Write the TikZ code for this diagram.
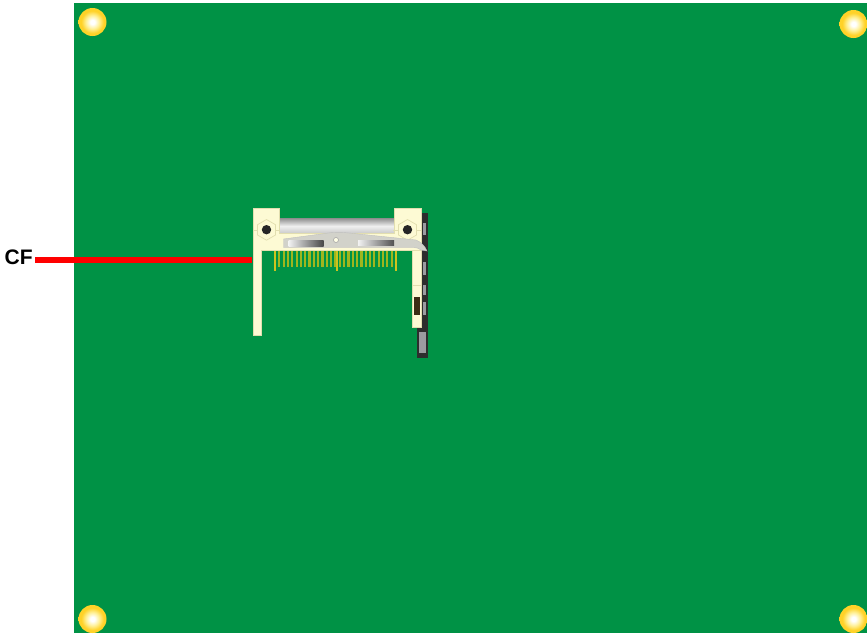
\documentclass[tikz,border=0pt]{standalone}
\usepackage{fontspec}
\setmainfont{Liberation Sans}
\definecolor{boardgreen}{RGB}{0,146,69}
\definecolor{holeyel}{RGB}{255,210,40}
\definecolor{holeor}{RGB}{232,172,50}
\definecolor{holepale}{RGB}{255,240,150}
\definecolor{cream}{RGB}{253,250,212}
\definecolor{creamline}{RGB}{226,222,175}
\definecolor{pinyel}{RGB}{160,182,30}
\definecolor{pinbright}{RGB}{205,195,30}
\definecolor{plategray}{RGB}{210,210,202}
\definecolor{darkstrip}{RGB}{45,45,45}
\definecolor{stripgray}{RGB}{155,155,160}
\definecolor{slotbrown}{RGB}{60,45,20}
\pgfdeclareradialshading{holeshade}{\pgfpoint{0bp}{0bp}}{
  color(0bp)=(white); color(4bp)=(white); color(12bp)=(holepale); color(20bp)=(holeyel); color(34bp)=(holeyel);
  color(42bp)=(holeor); color(46bp)=(holeor); color(50bp)=(boardgreen); color(100bp)=(boardgreen)}
\tikzset{
  hole/.style={circle,minimum size=28pt,inner sep=0pt,shading=holeshade},
  creampart/.style={fill=cream,draw=creamline,line width=0.5pt},
  pin/.style={draw=pinyel,line width=2.2pt},
  longpin/.style={draw=pinbright,line width=2pt},
  label/.style={font=\bfseries\fontsize{21}{21}\selectfont,inner sep=0pt,text=black},
  leader/.style={draw=red,line width=6pt},
}
\begin{document}
\begin{tikzpicture}[x=1pt,y=-1pt]
\useasboundingbox (0,0) rectangle (867,633);
\fill[white] (0,0) rectangle (867,633);
\fill[boardgreen] (74,3) rectangle (867,633);
% mounting holes
\begin{scope}
\clip (74,3) rectangle (867,633);
\node[hole] (h1) at (92.5,22) {};
\node[hole] (h2) at (853.5,24) {};
\node[hole] (h3) at (92.5,619) {};
\node[hole] (h4) at (853.5,619) {};
\end{scope}
% dark strip behind right side
\fill[darkstrip] (421.5,213) rectangle (428,358);
\fill[darkstrip] (417,327) rectangle (428,358);
\fill[stripgray] (419,332) rectangle (425.5,353);
\foreach \ya/\yb in {223/235,262/275,285/295,302/315}
  \fill[stripgray] (422.8,\ya) rectangle (425.5,\yb);
% pins
\foreach \i in {0,...,28} {
  \pgfmathsetmacro{\px}{275+\i*4.32}
  \draw[pin] (\px,250) -- (\px,267);
}
\draw[longpin] (275,250) -- (275,271);
\draw[longpin] (336.5,250) -- (336.5,271);
\draw[longpin] (396,250) -- (396,271);
% roller
\shade[top color=black!45,bottom color=black!22,middle color=black!6] (279,218) rectangle (394,234);
% frame
\draw[creampart] (253,208) -- (279,208) -- (279,233) -- (394,233) -- (394,208) -- (421,208) -- (421,250)
  -- (261.5,250) -- (261.5,335.5) -- (253,335.5) -- cycle;
\draw[creampart] (412.5,250) rectangle (421.5,327);
\draw[creamline,line width=0.5pt] (412.5,285) -- (421.5,285);
\fill[slotbrown] (414,297) rectangle (419.5,315);
\draw[creamline,line width=0.5pt] (253,230) -- (280,230) (393,230) -- (421,230);
% hex screws
\foreach \c/\n in {266.5/s1,407.5/s2} {
  \draw[creamline,fill=cream,line width=0.7pt] (\c,219.5) -- (\c+9,224.7) -- (\c+9,235) -- (\c,240.2) -- (\c-9,235) -- (\c-9,224.7) -- cycle;
  \fill[black!85] (\c,229.7) circle (4.7);
}
% metal plate
\fill[plategray,draw=black!25,line width=0.4pt] (283.5,239) -- (325,233.5) .. controls (334,232) and (340,232) .. (349,233)
  -- (416,240) .. controls (421,242) and (425,246) .. (427,251) -- (421,250) .. controls (419,248) and (417,248) .. (414,247.5)
  -- (283.5,247.5) -- cycle;
\shade[left color=white!90!gray,right color=black!72] (288.5,240) rectangle (323.5,246);
\shade[left color=white!90!gray,right color=black!68] (358,240) rectangle (394,245);
\fill[white!90!yellow,draw=black!35,line width=0.6pt] (336,240) circle (2.5);
% label and leader
\coordinate (slot) at (252,259.5);
\node[label,anchor=west] (cf) at (4.5,257.5) {CF};
\coordinate (start) at (35,259.5);
\draw[leader] (start) -- (slot);
\end{tikzpicture}
\end{document}
